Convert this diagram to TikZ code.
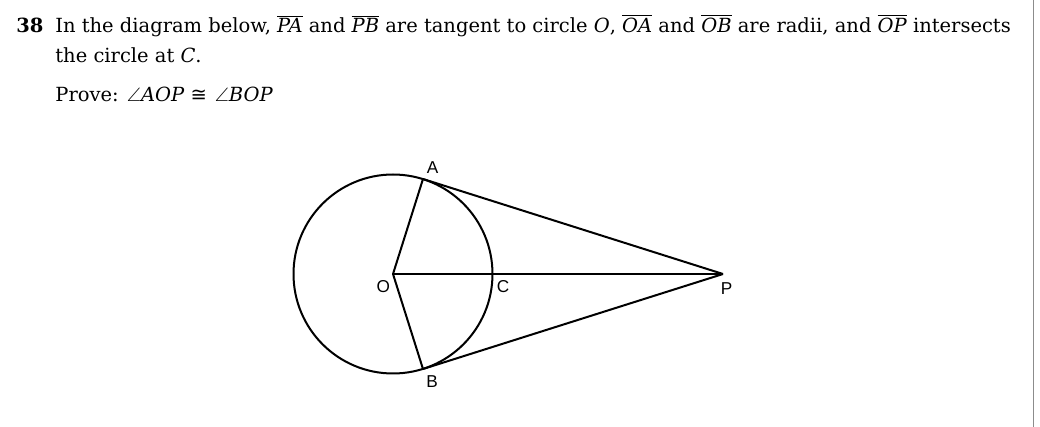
\documentclass[tikz,border=0pt]{standalone}
\usepackage{fontspec}
\setmainfont{DejaVu Serif}
\newfontfamily\lblfont{Liberation Sans}
\newfontfamily\symfont{DejaVu Sans}
\usepackage{amssymb}
\usetikzlibrary{positioning,calc}
\tikzstyle{txt}=[anchor=base west,inner sep=0pt,font=\fontsize{9.75}{12}\selectfont]
\tikzstyle{lbl}=[inner sep=0pt,font=\lblfont\fontsize{8.6}{10}\selectfont]
\tikzstyle{seg}=[draw,line width=1pt]
\newcommand\ovl[1]{\ensuremath{\overline{\textit{#1}}}}

\begin{document}
\begin{tikzpicture}[x=0.5pt,y=-0.5pt]
\useasboundingbox (0,0) rectangle (1040,427);

% Question text
\node[txt] (num) at (16,33) {\textbf{38}};
\node[txt] (l1) at (55,33) {In the diagram below, \ovl{PA} and \ovl{PB} are tangent to circle \textit{O}, \ovl{OA} and \ovl{OB} are radii, and \ovl{OP} intersects};
\node[txt] (l2) at (55,63) {the circle at \textit{C}.};
\node[txt] (l3) at (55,102) {Prove: $\angle$\textit{AOP}\hspace{3pt}{\symfont ≅}\hspace{4pt}$\angle$\textit{BOP}};

% page border
\coordinate (rt) at (1033.5,0);
\coordinate (rb) at (1033.5,427);
\draw[black!45,line width=0.7pt] (rt) -- (rb);

% Points
\def\r{99.5}
\coordinate (O) at (393,274);
\coordinate (P) at (723,274);
\coordinate (A) at (423,179);
\coordinate (B) at (423,369);
\coordinate (C) at (492.5,274);

% Circle and segments
\draw[line width=1pt] (O) circle[radius=\r];
\foreach \source/\dest in {O/A, O/B, O/P, A/P, B/P}
    \path[seg] (\source) -- (\dest);

% Labels
\node[lbl] (lA) at (432.5,168) {A};
\node[lbl] (lO) at (383.3,287) {O};
\node[lbl] (lC) at (503,287) {C};
\node[lbl] (lP) at (726.7,289) {P};
\node[lbl] (lB) at (432,382) {B};

\end{tikzpicture}
\end{document}
